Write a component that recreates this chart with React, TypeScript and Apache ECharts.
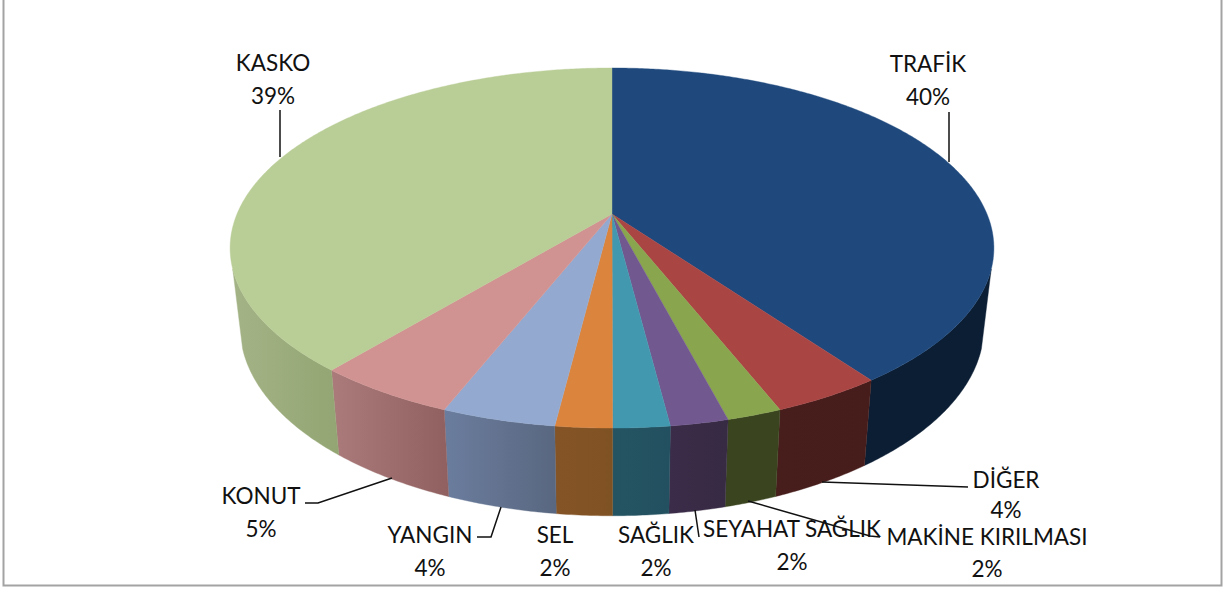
import React, { useEffect, useRef } from "react";
import * as echarts from "echarts";

// ---- data (clockwise from 12 o'clock) ----
const categories = ["TRAFİK", "DİĞER", "MAKİNE KIRILMASI", "SEYAHAT SAĞLIK", "SAĞLIK", "SEL", "YANGIN", "KONUT", "KASKO"];
const shares = [40.05, 3.93, 1.95, 2.05, 2.0, 2.0, 4.03, 5.03, 38.96];

// ---- styles ----
const topColors = ["#1F497D", "#A94543", "#89A54E", "#71588F", "#4198AF", "#DB843D", "#93A9CF", "#D19392", "#B9CD96"];
const wallLeft = ["#0B1E34", "#471E1C", "#3A451F", "#3B2C49", "#245462", "#855426", "#6B7D9E", "#AA7B7A", "#A4B386"];
const wallRight = ["#0B1E34", "#471D1B", "#3A451F", "#372A43", "#235060", "#7F5224", "#596780", "#8F605F", "#93A573"];

// ---- layout ----
const apexX = 612;
const apexY = 214;
const radiusX = 375;
const radiusY = 173.6;
const persp = -0.189;
const wallShift = 77;
const wallScaleX = 0.974;
const wallScaleY = 1.05;
const wallFrom = 0.2984;
const wallTo = 0.7016;
const labelFirstLine = [[928, 63.5], [1006, 479.5], [987, 536], [792, 528.5], [656, 534.5], [555, 534.5], [430, 534.5], [261, 495.5], [273, 62.5]];
const labelSecondLine = [96.5, 509, 568, 561.5, 567.5, 567.5, 567.5, 528.5, 95.5];
const leaderLines = [
  [[949, 162], [949, 112]],
  [[822, 482], [968, 487]],
  [[748, 501], [870, 536], [880, 537]],
  [[695, 510], [699, 537]],
  [],
  [],
  [[501, 507], [491, 537], [477, 537]],
  [[392, 478], [318, 503], [305, 503]],
  [[280, 157], [280, 110]],
];

const total = shares.reduce((a, b) => a + b, 0);
const startOf = (i: number) => shares.slice(0, i).reduce((a, b) => a + b, 0) / total;
const endOf = (i: number) => startOf(i + 1);

function topPoint(f: number): number[] {
  const t = 2 * Math.PI * f;
  const c = Math.sin(t);
  const s = -Math.cos(t);
  const d = 1 + persp * s;
  return [apexX + (radiusX * c) / d, apexY + (radiusY * s) / d];
}
function bottomPoint(f: number): number[] {
  const p = topPoint(f);
  return [apexX + (p[0] - apexX) * wallScaleX, apexY + wallShift + (p[1] - apexY) * wallScaleY];
}
function arc(f0: number, f1: number, fn: (f: number) => number[]): number[][] {
  const n = Math.max(2, Math.ceil((f1 - f0) * 720));
  const out: number[][] = [];
  for (let i = 0; i <= n; i++) out.push(fn(f0 + ((f1 - f0) * i) / n));
  return out;
}

const renderWall = (params: any) => {
  const i = params.dataIndex;
  const f0 = Math.max(startOf(i), wallFrom);
  const f1 = Math.min(endOf(i), wallTo);
  if (f1 <= f0) return { type: "group", children: [] };
  const points = [...arc(f0, f1, topPoint), ...arc(f0, f1, bottomPoint).reverse()];
  const fill = new echarts.graphic.LinearGradient(0, 0, 1, 0, [
    { offset: 0, color: wallLeft[i] },
    { offset: 1, color: wallRight[i] },
  ]);
  return { type: "polygon", shape: { points }, style: { fill, stroke: fill, lineWidth: 0.4 } };
};

const renderTop = (params: any) => {
  const i = params.dataIndex;
  const points = [[apexX, apexY], ...arc(startOf(i), endOf(i), topPoint)];
  return { type: "polygon", shape: { points }, style: { fill: topColors[i], stroke: topColors[i], lineWidth: 0.4 } };
};

const labelText = (text: string, x: number, y: number) => ({
  type: "text",
  x,
  y,
  style: {
    text,
    fontFamily: "Lato",
    fontSize: 22.5,
    fill: "#111111",
    align: "center",
    verticalAlign: "middle",
  },
});

const renderLabel = (params: any) => {
  const i = params.dataIndex;
  const children: any[] = [];
  if (leaderLines[i].length) {
    children.push({
      type: "polyline",
      shape: { points: leaderLines[i] },
      style: { fill: "none", stroke: "#111111", lineWidth: 1.5 },
    });
  }
  const [x, y] = labelFirstLine[i];
  children.push(labelText(categories[i], x, y));
  children.push(labelText(`${Math.round((shares[i] / total) * 100)}%`, x, labelSecondLine[i]));
  return { type: "group", children };
};

export default function App() {
  const ref = useRef<HTMLDivElement>(null);
  useEffect(() => {
    const chart = echarts.init(ref.current!, null, { renderer: "svg" });
    const data = categories.map((name, i) => ({ name, value: shares[i] }));
    chart.setOption({
      animation: false,
      backgroundColor: "#FFFFFF",
      graphic: [
        {
          type: "polyline",
          shape: { points: [[3.5, 0], [3.5, 585.5], [1221.5, 585.5], [1221.5, 0]] },
          style: { fill: "none", stroke: "#A3A3A3", lineWidth: 2 },
          silent: true,
        },
      ],
      series: [
        { type: "custom", coordinateSystem: "none", z: 1, silent: true, data, renderItem: renderWall },
        { type: "custom", coordinateSystem: "none", z: 2, silent: true, data, renderItem: renderTop },
        { type: "custom", coordinateSystem: "none", z: 3, silent: true, data, renderItem: renderLabel },
      ],
    });
    return () => chart.dispose();
  }, []);
  return <div ref={ref} style={{ position: "fixed", left: 0, top: 0, width: 1227, height: 591 }} />;
}
